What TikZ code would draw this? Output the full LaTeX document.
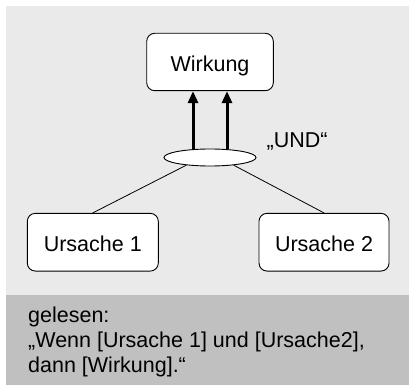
\documentclass[tikz,border=0pt]{standalone}
\usepackage{fontspec}
\setmainfont{Liberation Sans}
\usetikzlibrary{arrows.meta,shapes.geometric}
\definecolor{bglight}{HTML}{EAEAEA}
\definecolor{bgdark}{HTML}{C0C0C0}
\begin{document}
\begin{tikzpicture}[x=1pt,y=-1pt,
  box/.style={draw=black,line width=0.9pt,rounded corners=8pt,fill=white,
    inner sep=0pt,text height=19pt,text depth=0pt,
    font=\fontsize{21.5}{24}\selectfont},
  andnode/.style={draw=black,line width=0.9pt,ellipse,fill=white,inner sep=0pt,
    minimum width=92pt,minimum height=17pt},
  link/.style={draw=black,line width=0.8pt},
  bigarrow/.style={draw=black,line width=3pt,-{Triangle[length=12pt,width=10pt]}},
  txt/.style={inner sep=0pt,anchor=base west,font=\fontsize{21.5}{24}\selectfont}]
\useasboundingbox (0,0) rectangle (409,385);
\fill[bglight] (6,6) rectangle (409,295);
\fill[bgdark] (6,295) rectangle (409,385);
\node[box,minimum width=126.6pt,minimum height=57.4pt] (wirk) at (210,62) {Wirkung};
\node[box,minimum width=131pt,minimum height=57.7pt] (u1) at (92.8,242.2) {Ursache 1};
\node[box,minimum width=130pt,minimum height=57.7pt] (u2) at (324,242.2) {Ursache 2};
\node[andnode] (und) at (210,157.5) {};
\draw[bigarrow] ([xshift=-17pt]und.north) -- ([xshift=-17pt]wirk.south);
\draw[bigarrow] ([xshift=17pt]und.north) -- ([xshift=17pt]wirk.south);
\draw[link] (und.198) -- (u1.north);
\draw[link] (und.342) -- (u2.north);
\node[txt] (undlabel) at (266.5,147) {„UND“};
\node[txt] (g1) at (28,322.5) {gelesen:};
\node[txt] (g2) at (28,347.5) {„Wenn [Ursache 1] und [Ursache2],};
\node[txt] (g3) at (28,372.5) {dann [Wirkung].“};
\end{tikzpicture}
\end{document}
